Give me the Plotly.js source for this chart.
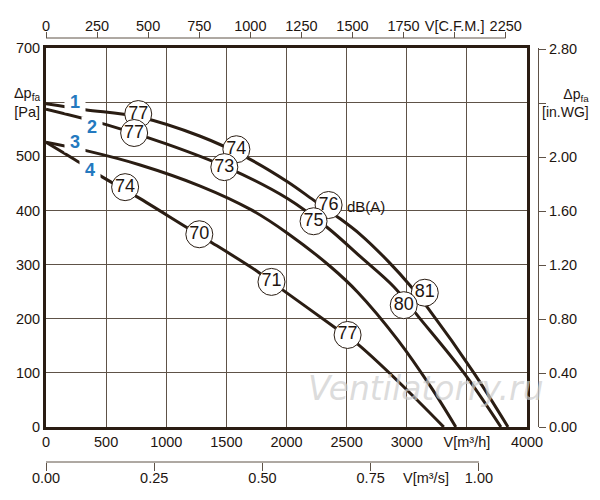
<!DOCTYPE html>
<html>
<head>
<meta charset="utf-8">
<script src="https://cdn.plot.ly/plotly-3.0.1.min.js"></script>
<style>
  body { margin: 0; background: #fff; }
  #chart { width: 600px; height: 500px; }
</style>
</head>
<body>
<div id="chart"></div>
<script>
// fan curves: flow in m3/h, static pressure in Pa
var curve1Flow = [0, 325, 767, 1283, 1675, 2008, 2225, 2425, 2617, 2850, 3033, 3175, 3558, 3842];
var curve1Pa   = [597, 586, 573, 537, 497, 453, 419, 388, 355, 305, 260, 220, 100, 0];

var curve2Flow = [0, 508, 1000, 1500, 2008, 2342, 2617, 2892, 3100, 3475, 3783];
var curve2Pa   = [587, 558, 523, 480, 422, 368, 314, 259, 203, 100, 0];

var curve3Flow = [0, 342, 783, 1283, 1708, 2008, 2367, 2592, 2925, 3200, 3408];
var curve3Pa   = [526, 510, 484, 445, 401, 358, 296, 249, 161, 74, 0];

var curve4Flow = [0, 283, 467, 758, 1175, 1383, 1767, 1875, 2408, 2592, 2925, 3308];
var curve4Pa   = [526, 488, 462, 425, 368, 340, 286, 268, 183, 153, 85, 0];

// noise levels dB(A) in circles
var noiseFlow = [767, 1583, 2350, 3150,   733, 1483, 2225, 2975,   658, 1275, 1875, 2508];
var noisePa   = [578, 513, 410, 248,      543, 480, 380, 225,      443, 356, 268, 170];
var noiseDb   = ['77', '74', '76', '81',  '77', '73', '75', '80',  '74', '70', '71', '77'];

// curve numbers
var curveNames = ['1', '2', '3', '4'];
var nameFlow   = [240, 383, 242, 367];
var namePa     = [601, 554, 526, 474];

// tick labels
var flowTicks  = [0, 500, 1000, 1500, 2000, 2500, 3000, 3500, 4000];
var flowLabels = ['0', '500', '1000', '1500', '2000', '2500', '3000', 'V[m³/h]', '4000'];
var paTicks    = [0, 100, 200, 300, 400, 500, 600, 700];
var paLabels   = ['0', '100', '200', '300', '400', '500', 'Δp<sub>fa</sub><br>[Pa]', '700'];
var cfmTicks   = [0, 250, 500, 750, 1000, 1250, 1500, 1750, 2000, 2250];
var cfmLabels  = ['0', '250', '500', '750', '1000', '1250', '1500', '1750', 'V[C.F.M.]', '2250'];
var m3sTicks   = [0, 0.25, 0.5, 0.75, 1.0];
var m3sLabels  = ['0.00', '0.25', '0.50', '0.75', '1.00'];
var inwgTicks  = [0, 0.4, 0.8, 1.2, 1.6, 2.0, 2.4, 2.8];
var inwgLabels = ['0.00', '0.40', '0.80', '1.20', '1.60', '2.00', ' ', '2.80'];

var M3H_PER_CFM = 1.69901;
var PA_PER_INWG = 249.089;
var M3H_PER_M3S = 3600;
var FLOW_MAX = 4000, PA_MAX = 700;

var ink = '#2a1d13';
var grid = '#5e5247';
var blue = '#2479bf';

function curve(x, y) {
  return {
    x: x, y: y, type: 'scatter', mode: 'lines',
    line: {color: ink, width: 3, shape: 'spline', smoothing: 1},
    hoverinfo: 'skip'
  };
}

var data = [
  curve(curve1Flow, curve1Pa),
  curve(curve2Flow, curve2Pa),
  curve(curve3Flow, curve3Pa),
  curve(curve4Flow, curve4Pa),
  {
    x: noiseFlow, y: noisePa, text: noiseDb,
    type: 'scatter', mode: 'markers+text',
    textposition: 'middle center',
    textfont: {size: 18, color: '#1e1510'},
    marker: {size: 27, color: '#fff', line: {color: ink, width: 1}},
    cliponaxis: false
  },
  // empty trace so the in.WG axis gets drawn
  {x: [null], y: [null], yaxis: 'y2', type: 'scatter', mode: 'lines', hoverinfo: 'skip'}
];

// plot box is 481 px wide inside a 492 px paper, 379 px tall inside 424 px
var xdom = 481 / 492;
var ydom = [35 / 424, 414 / 424];

var annotations = curveNames.map(function (n, i) {
  return {
    x: nameFlow[i], y: namePa[i], text: '&nbsp;<b>' + n + '</b>&nbsp;', showarrow: false,
    font: {size: 18, color: blue}, bgcolor: '#fff', borderpad: 0
  };
});
annotations.push({
  x: 2658, y: 408, text: 'dB(A)', showarrow: false,
  font: {size: 15, color: '#1e1510'}
});
annotations.push({
  x: 3158, y: 72, text: 'Ventilatorry.ru', showarrow: false,
  font: {size: 33, color: 'rgba(205,205,205,0.7)', style: 'italic', family: 'DejaVu Sans'}
});
annotations.push({
  xref: 'x3', yref: 'paper', x: 0.877, y: -0.0377, yanchor: 'middle',
  text: 'V[m³/s]', showarrow: false,
  font: {size: 14.5, color: '#1e1510'}
});
annotations.push({
  xref: 'paper', yref: 'y2', x: 1.005, y: 2.4, xanchor: 'left', yanchor: 'middle', align: 'right',
  text: 'Δp<sub>fa</sub><br>[in.WG]', showarrow: false,
  font: {size: 14, color: '#1e1510'}
});

// the secondary flow axes stop at 2250 CFM and 1.00 m3/s
var shapes = [
  {type: 'line', xref: 'x2', yref: 'paper', x0: 0, x1: 2250, y0: 1, y1: 1,
   line: {color: grid, width: 1}},
  {type: 'line', xref: 'x3', yref: 'paper', x0: 0, x1: 1, y0: 0, y1: 0,
   line: {color: grid, width: 1}}
];

var layout = {
  width: 600, height: 500,
  margin: {l: 46, r: 62, t: 38, b: 38, pad: 0},
  paper_bgcolor: '#fff', plot_bgcolor: 'rgba(0,0,0,0)',
  showlegend: false,
  font: {family: 'Liberation Sans, Arial, sans-serif', size: 14.5, color: '#1e1510'},
  xaxis: {
    range: [0, FLOW_MAX], domain: [0, xdom], anchor: 'y',
    tickvals: flowTicks, ticktext: flowLabels, ticks: '',
    showgrid: true, gridcolor: grid, gridwidth: 1,
    showline: true, mirror: true, linecolor: ink, linewidth: 3,
    zeroline: false, fixedrange: true
  },
  yaxis: {
    range: [0, PA_MAX], domain: ydom, anchor: 'x',
    tickvals: paTicks, ticktext: paLabels, ticks: '',
    showgrid: true, gridcolor: grid, gridwidth: 1,
    showline: true, mirror: true, linecolor: ink, linewidth: 3,
    zeroline: false, fixedrange: true
  },
  xaxis2: {   // C.F.M. on top
    overlaying: 'x', range: [0, FLOW_MAX / M3H_PER_CFM],
    anchor: 'free', position: 1, side: 'top',
    tickvals: cfmTicks, ticktext: cfmLabels,
    ticks: 'outside', ticklen: 6, tickcolor: grid, tickwidth: 1,
    ticklabelstandoff: -5,
    showline: false, showgrid: false, zeroline: false, fixedrange: true
  },
  xaxis3: {   // m3/s below
    overlaying: 'x', range: [0, FLOW_MAX / M3H_PER_M3S],
    anchor: 'free', position: 0, side: 'bottom',
    tickvals: m3sTicks, ticktext: m3sLabels,
    ticks: 'outside', ticklen: 8, tickcolor: grid, tickwidth: 1,
    ticklabelstandoff: -5,
    showline: false, showgrid: false, zeroline: false, fixedrange: true
  },
  yaxis2: {   // in.WG on the right
    overlaying: 'y', range: [0, PA_MAX / PA_PER_INWG],
    anchor: 'free', position: 1, side: 'right',
    tickvals: inwgTicks, ticktext: inwgLabels,
    ticks: 'outside', ticklen: 7, tickcolor: grid, tickwidth: 1,
    showline: true, linecolor: grid, linewidth: 1,
    showgrid: false, zeroline: false, fixedrange: true
  },
  shapes: shapes,
  annotations: annotations
};

Plotly.newPlot('chart', data, layout, {staticPlot: true});
</script>
</body>
</html>
